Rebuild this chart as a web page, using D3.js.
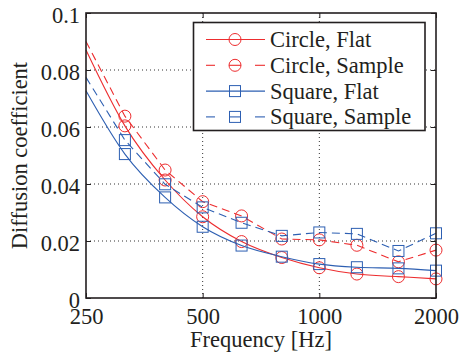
<!DOCTYPE html>
<html>
<head>
<meta charset="utf-8">
<script src="https://cdn.jsdelivr.net/npm/d3@7"></script>
<style>
  body { margin: 0; background: #fff; }
</style>
</head>
<body>
<div id="chart"></div>
<script>
const freqs = [250, 315, 400, 500, 630, 800, 1000, 1250, 1600, 2000];
const circleFlat   = [0.087, 0.0604, 0.0414, 0.0285, 0.0198, 0.0142, 0.0106, 0.0084, 0.0075, 0.0067];
const circleSample = [0.090, 0.0638, 0.0449, 0.0338, 0.0288, 0.0207, 0.0204, 0.0185, 0.0127, 0.0168];
const squareFlat   = [0.0727, 0.0505, 0.0353, 0.025, 0.0184, 0.0145, 0.0119, 0.0108, 0.0104, 0.0096];
const squareSample = [0.0774, 0.0554, 0.0399, 0.0318, 0.0264, 0.0218, 0.023, 0.0225, 0.0165, 0.0227];
const xTicks = [250, 500, 1000, 2000];
const yTicks = [0, 0.02, 0.04, 0.06, 0.08, 0.1];

const width = 459, height = 354;
const margin = { top: 13, right: 23, bottom: 56, left: 86 };
const red = "#ed2d2f", blue = "#2d5fb2";
const font = "'Liberation Serif', 'DejaVu Serif', serif";
const fs = 22.5;
const ink = "#231f20";

const series = [
  { name: "Circle, Flat", values: circleFlat, color: red, dash: null, marker: "circle" },
  { name: "Circle, Sample", values: circleSample, color: red, dash: "8,5", marker: "circle" },
  { name: "Square, Flat", values: squareFlat, color: blue, dash: null, marker: "square" },
  { name: "Square, Sample", values: squareSample, color: blue, dash: "8,5", marker: "square" },
];

const svg = d3.select("#chart").append("svg")
  .attr("width", width).attr("height", height)
  .style("font-family", font);

const xScale = d3.scaleLog().domain([250, 2000])
  .range([margin.left, width - margin.right]);
const yScale = d3.scaleLinear().domain([0, 0.1])
  .range([height - margin.bottom, margin.top]);

const x0 = margin.left, x1 = width - margin.right;
const y0 = height - margin.bottom, y1 = margin.top;

// grid
svg.append("g").selectAll("line")
  .data(yTicks.slice(1, -1)).enter().append("line")
  .attr("x1", x0).attr("x2", x1)
  .attr("y1", d => yScale(d)).attr("y2", d => yScale(d))
  .attr("stroke", "#333").attr("stroke-width", 1).attr("stroke-dasharray", "1,3");
svg.append("g").selectAll("line")
  .data(xTicks.slice(1, -1)).enter().append("line")
  .attr("x1", d => xScale(d)).attr("x2", d => xScale(d))
  .attr("y1", y0).attr("y2", y1)
  .attr("stroke", "#333").attr("stroke-width", 1).attr("stroke-dasharray", "1,3");

// axes with inward ticks
const xAxis = svg.append("g")
  .attr("transform", `translate(0, ${y0})`)
  .call(d3.axisBottom(xScale).tickValues(xTicks).tickFormat(d3.format("d"))
    .tickSizeInner(-5).tickSizeOuter(0).tickPadding(10));
const yAxis = svg.append("g")
  .attr("transform", `translate(${x0}, 0)`)
  .call(d3.axisLeft(yScale).tickValues(yTicks).tickFormat(d => d === 0 ? "0" : d === 0.1 ? "0.1" : d3.format(".2f")(d))
    .tickSizeInner(-5).tickSizeOuter(0).tickPadding(6));
svg.append("g")
  .attr("transform", `translate(0, ${y1})`)
  .call(d3.axisTop(xScale).tickValues(xTicks).tickFormat("").tickSizeInner(-5).tickSizeOuter(0));
svg.append("g")
  .attr("transform", `translate(${x1}, 0)`)
  .call(d3.axisRight(yScale).tickValues(yTicks).tickFormat("").tickSizeInner(-5).tickSizeOuter(0));

svg.selectAll(".domain").remove();
svg.selectAll("g").attr("font-family", null);
svg.selectAll(".tick line").attr("stroke", ink);
xAxis.selectAll("text").attr("font-size", fs).attr("fill", ink).attr("font-family", font);
yAxis.selectAll("text").attr("font-size", fs).attr("fill", ink).attr("font-family", font).attr("dy", "0.42em");

// series
const solidLine = d3.line().x((d, i) => xScale(freqs[i])).y(d => yScale(d)).curve(d3.curveMonotoneX);
const dashLine = d3.line().x((d, i) => xScale(freqs[i])).y(d => yScale(d));

function drawMarker(g, type, cx, cy, color) {
  if (type === "circle") {
    g.append("circle").attr("cx", cx).attr("cy", cy).attr("r", 6)
      .attr("fill", "none").attr("stroke", color).attr("stroke-width", 1);
  } else {
    g.append("rect").attr("x", cx - 5.5).attr("y", cy - 5.5).attr("width", 11).attr("height", 11)
      .attr("fill", "none").attr("stroke", color).attr("stroke-width", 1);
  }
}

series.forEach(s => {
  const g = svg.append("g");
  g.append("path").datum(s.values)
    .attr("d", s.dash ? dashLine : solidLine)
    .attr("fill", "none").attr("stroke", s.color).attr("stroke-width", 1.1)
    .attr("stroke-dasharray", s.dash);
  s.values.forEach((v, i) => {
    if (i === 0) return;
    drawMarker(g, s.marker, xScale(freqs[i]), yScale(v), s.color);
  });
});

// frame
svg.append("rect")
  .attr("x", x0).attr("y", y1).attr("width", x1 - x0).attr("height", y0 - y1)
  .attr("fill", "none").attr("stroke", ink).attr("stroke-width", 1.6);

// legend
const legend = svg.append("g");
legend.append("rect")
  .attr("x", 193.5).attr("y", 22.5).attr("width", 231.5).attr("height", 108)
  .attr("fill", "#fff").attr("stroke", ink).attr("stroke-width", 1.6);
series.forEach((s, i) => {
  const cy = 39.5 + i * 25.8;
  if (s.dash) {
    [[206, 215], [229, 241], [255, 265]].forEach(([a, b]) => {
      legend.append("line").attr("x1", a).attr("x2", b).attr("y1", cy).attr("y2", cy)
        .attr("stroke", s.color).attr("stroke-width", 1.1);
    });
  } else {
    legend.append("line").attr("x1", 206).attr("x2", 265).attr("y1", cy).attr("y2", cy)
      .attr("stroke", s.color).attr("stroke-width", 1.1);
  }
  drawMarker(legend, s.marker, 235, cy, s.color);
  legend.append("text").attr("x", 270).attr("y", cy + 7.5)
    .attr("font-size", fs).attr("font-family", font).attr("fill", ink).text(s.name);
});

// axis labels
svg.append("text")
  .attr("x", (x0 + x1) / 2).attr("y", 347)
  .attr("text-anchor", "middle").attr("font-size", fs)
  .attr("font-family", font).attr("fill", ink)
  .text("Frequency [Hz]");
svg.append("text")
  .attr("transform", `translate(27, ${(y0 + y1) / 2}) rotate(-90)`)
  .attr("text-anchor", "middle").attr("font-size", fs)
  .attr("font-family", font).attr("fill", ink)
  .text("Diffusion coefficient");
</script>
</body>
</html>
